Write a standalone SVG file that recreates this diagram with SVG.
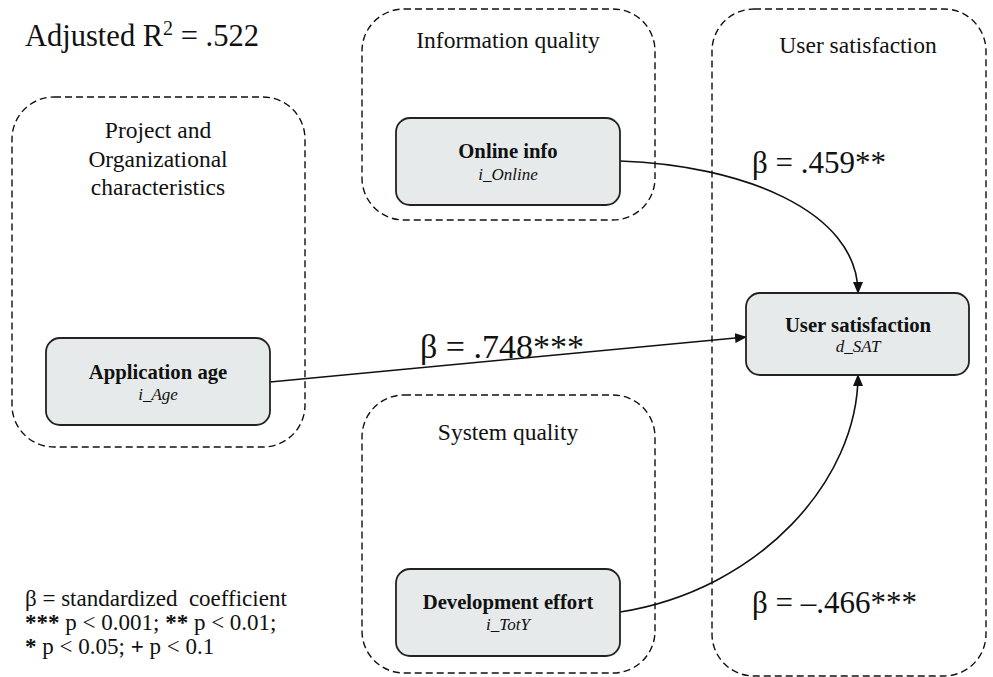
<svg xmlns="http://www.w3.org/2000/svg" width="993" height="677" viewBox="0 0 993 677" font-family="'Liberation Serif', 'Times New Roman', 'DejaVu Serif', serif">
<style>
text{font-family:'Liberation Serif','Times New Roman','DejaVu Serif',serif;fill:#111}
.grp{fill:none;stroke:#111;stroke-width:1.4;stroke-dasharray:7 4}
.node{fill:#e6eaea;stroke:#222;stroke-width:1.8}
.title{font-size:20.7px;font-weight:bold;text-anchor:middle}
.sub{font-size:17px;font-style:italic;text-anchor:middle}
.glab{font-size:23.5px;text-anchor:middle}
.beta{font-size:31px}
.beta-big{font-size:34px}
.leg{font-size:23px}
.edge{fill:none;stroke:#111;stroke-width:1.6}
</style>
<defs>
<marker id="arr" markerUnits="userSpaceOnUse" markerWidth="12" markerHeight="10" refX="11" refY="5" orient="auto">
<path d="M0,0 L12,5 L0,10 Z" fill="#111"/>
</marker>
</defs>
<rect width="993" height="677" fill="#fff"/>

<text x="25" y="46" font-size="30.5">Adjusted R<tspan font-size="20" dy="-11">2</tspan><tspan dy="11"> = .522</tspan></text>

<g id="grp-project">
<rect class="grp" x="12" y="97" width="293" height="350" rx="42"/>
<text class="glab" x="158" y="138">Project and</text>
<text class="glab" x="158" y="167">Organizational</text>
<text class="glab" x="158" y="195">characteristics</text>
</g>
<g id="grp-info">
<rect class="grp" x="362" y="9" width="293" height="211" rx="42"/>
<text class="glab" x="508" y="48">Information quality</text>
</g>
<g id="grp-system">
<rect class="grp" x="362" y="395" width="293" height="278" rx="42"/>
<text class="glab" x="508" y="440">System quality</text>
</g>
<g id="grp-user">
<rect class="grp" x="712" y="9" width="274" height="667" rx="42"/>
<text class="glab" x="858" y="53">User satisfaction</text>
</g>

<g id="connectors">
<path class="edge" d="M270,382 L746,337" marker-end="url(#arr)"/>
<path class="edge" d="M620,161 C740,165 858,210 858,293" marker-end="url(#arr)"/>
<path class="edge" d="M620,612 C760,590 858,480 858,375" marker-end="url(#arr)"/>
</g>

<g id="node-age">
<rect class="node" x="46" y="338" width="224" height="87" rx="14"/>
<text class="title" x="158" y="379">Application age</text>
<text class="sub" x="158" y="400">i_Age</text>
</g>
<g id="node-online">
<rect class="node" x="396" y="118" width="224" height="87" rx="14"/>
<text class="title" x="508" y="158">Online info</text>
<text class="sub" x="508" y="180">i_Online</text>
</g>
<g id="node-dev">
<rect class="node" x="396" y="569" width="224" height="87" rx="14"/>
<text class="title" x="508" y="609">Development effort</text>
<text class="sub" x="508" y="630">i_TotY</text>
</g>
<g id="node-sat">
<rect class="node" x="746" y="293" width="223" height="82" rx="14"/>
<text class="title" x="858" y="332">User satisfaction</text>
<text class="sub" x="858" y="352">d_SAT</text>
</g>

<text class="beta" x="752" y="173">β = .459**</text>
<text class="beta-big" x="420" y="358">β = .748***</text>
<text class="beta" x="752" y="613">β = –.466***</text>

<text class="leg" x="25" y="606">β = standardized&#160; coefficient</text>
<text class="leg" x="25" y="630"><tspan font-weight="bold">***</tspan> p &lt; 0.001; <tspan font-weight="bold">**</tspan> p &lt; 0.01;</text>
<text class="leg" x="25" y="654"><tspan font-weight="bold">*</tspan> p &lt; 0.05; <tspan font-weight="bold">+</tspan> p &lt; 0.1</text>
</svg>
